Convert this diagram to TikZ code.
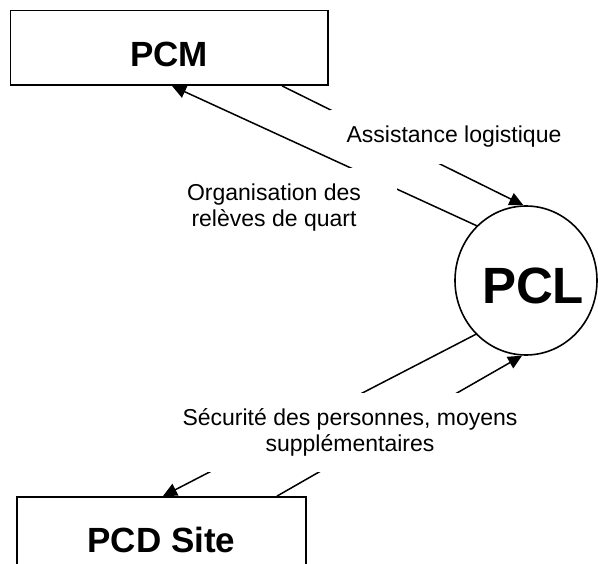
\documentclass[tikz,border=0pt]{standalone}
\usepackage{fontspec}
\setmainfont{Liberation Sans}
\usetikzlibrary{arrows.meta,calc,shapes.geometric}
\begin{document}
\begin{tikzpicture}[x=1pt,y=-1pt,
  box/.style={draw,line width=1.8pt,rectangle,inner sep=0pt},
  conn/.style={line width=1.5pt,-{Triangle[length=14pt,width=13pt]}},
  flowlabel/.style={fill=white,inner sep=0pt,align=center,font=\fontsize{23}{25.5}\selectfont},
  titlefont/.style={font=\bfseries\fontsize{35}{40}\selectfont}]
\useasboundingbox (0,0) rectangle (598,564);
\node[box,minimum width=317.5pt,minimum height=74.5pt,
  label={[titlefont,yshift=-7pt]center:PCM}] (pcm) at (169.25,47.75) {};
\node[draw,ellipse,line width=1.6pt,minimum width=142pt,minimum height=149pt,inner sep=0pt,
  label={[font=\bfseries\fontsize{51}{56}\selectfont,xshift=7pt,yshift=-5.5pt]center:PCL}] (pcl) at (526,280.5) {};
\node[box,minimum width=289pt,minimum height=85pt,titlefont] (pcd) at (161.5,539.5) {PCD Site};

\draw[conn] ($(pcm.south)+(112.75,0)$) -- (pcl.92);
\node[flowlabel,minimum width=248pt,minimum height=54pt] (lblA) at (454,137) {Assistance logistique};
\draw[conn] (pcl.132.5) -- ($(pcm.south)+(2.75,0)$);
\node[flowlabel,minimum width=246pt,minimum height=78pt] (lblO) at (274,207.5) {Organisation des\\relèves de quart};
\draw[conn] (pcl.227.5) -- ($(pcd.north)+(1.5,0)$);
\draw[conn] ($(pcd.north)+(115.5,0)$) -- (pcl.267.7);
\node[flowlabel,minimum width=360pt,minimum height=79pt] (lblS) at (350,432.5) {Sécurité des personnes, moyens\\supplémentaires};
\end{tikzpicture}
\end{document}
